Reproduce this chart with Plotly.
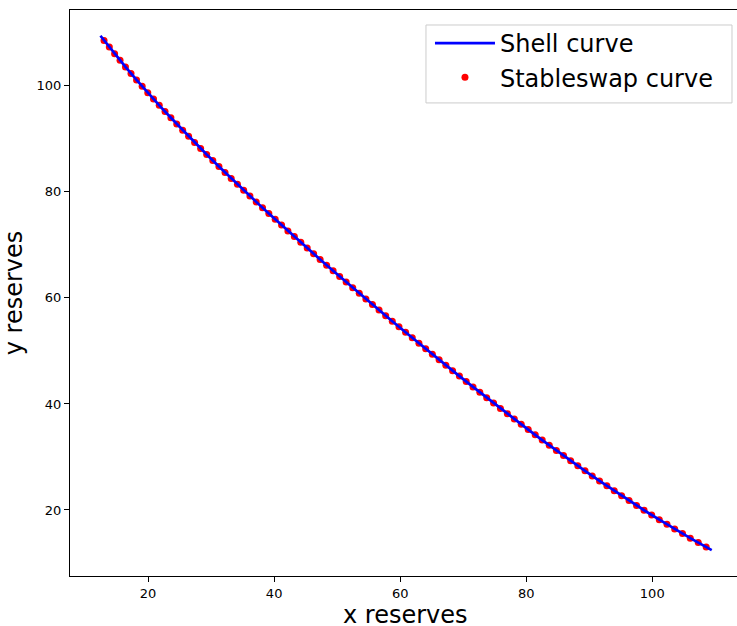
import plotly.graph_objects as go

shell_x = [12.44, 14.69, 16.41, 18.17, 19.95, 21.77, 23.62, 25.49, 27.38, 29.30,
           31.24, 33.19, 35.17, 37.16, 39.16, 41.18, 43.21, 45.25, 47.30, 49.36,
           51.43, 53.51, 55.60, 57.18, 58.75, 60.86, 62.98, 65.11, 67.25, 69.40,
           71.56, 73.73, 75.91, 78.11, 80.32, 82.54, 84.79, 87.05, 89.33, 91.64,
           93.97, 96.32, 98.70, 101.12, 103.56, 106.04, 109.44]
shell_y = [109.44, 106.04, 103.56, 101.12, 98.70, 96.32, 93.97, 91.64, 89.33, 87.05,
           84.79, 82.54, 80.32, 78.11, 75.91, 73.73, 71.56, 69.40, 67.25, 65.11,
           62.98, 60.86, 58.75, 57.18, 55.60, 53.51, 51.43, 49.36, 47.30, 45.25,
           43.21, 41.18, 39.16, 37.16, 35.17, 33.19, 31.24, 29.30, 27.38, 25.49,
           23.62, 21.77, 19.95, 18.17, 16.41, 14.69, 12.44]

stableswap_x = [13.01, 13.85, 14.69, 15.55, 16.41, 17.29, 18.17, 19.06, 19.95, 20.86,
                21.77, 22.69, 23.62, 24.55, 25.49, 26.43, 27.38, 28.34, 29.30, 30.27,
                31.24, 32.21, 33.19, 34.18, 35.17, 36.16, 37.16, 38.16, 39.16, 40.17,
                41.18, 42.19, 43.21, 44.23, 45.25, 46.27, 47.30, 48.33, 49.36, 50.40,
                51.43, 52.47, 53.51, 54.56, 55.60, 56.65,
                57.70, 58.75, 59.81, 60.86, 61.92, 62.98, 64.05, 65.11, 66.18, 67.25,
                68.32, 69.40, 70.48, 71.56, 72.64, 73.73, 74.82, 75.91, 77.01, 78.11,
                79.21, 80.32, 81.43, 82.54, 83.66, 84.79, 85.92, 87.05, 88.19, 89.33,
                90.48, 91.64, 92.80, 93.97, 95.14, 96.32, 97.51, 98.70, 99.91, 101.12,
                102.34, 103.56, 104.80, 106.04, 107.30, 108.56]
stableswap_y = [108.56, 107.30, 106.04, 104.80, 103.56, 102.34, 101.12, 99.91, 98.70, 97.51,
                96.32, 95.14, 93.97, 92.80, 91.64, 90.48, 89.33, 88.19, 87.05, 85.92,
                84.79, 83.66, 82.54, 81.43, 80.32, 79.21, 78.11, 77.01, 75.91, 74.82,
                73.73, 72.64, 71.56, 70.48, 69.40, 68.32, 67.25, 66.18, 65.11, 64.05,
                62.98, 61.92, 60.86, 59.81, 58.75, 57.70,
                56.65, 55.60, 54.56, 53.51, 52.47, 51.43, 50.40, 49.36, 48.33, 47.30,
                46.27, 45.25, 44.23, 43.21, 42.19, 41.18, 40.17, 39.16, 38.16, 37.16,
                36.16, 35.17, 34.18, 33.19, 32.21, 31.24, 30.27, 29.30, 28.34, 27.38,
                26.43, 25.49, 24.55, 23.62, 22.69, 21.77, 20.86, 19.95, 19.06, 18.17,
                17.29, 16.41, 15.55, 14.69, 13.85, 13.01]

tick_vals = [20, 40, 60, 80, 100]

FONT = "DejaVu Sans"

fig = go.Figure()
fig.add_trace(go.Scatter(
    x=stableswap_x, y=stableswap_y, mode="markers", name="Stableswap curve",
    marker=dict(color="#ff0000", size=7, line=dict(width=0)), legendrank=2))
fig.add_trace(go.Scatter(
    x=shell_x, y=shell_y, mode="lines", name="Shell curve",
    line=dict(color="#0000ff", width=2.7), legendrank=1))

axis_common = dict(
    showgrid=False, zeroline=False, showline=True, linecolor="black", linewidth=1,
    ticks="outside", ticklen=5, tickwidth=1, tickcolor="black",
    tickfont=dict(family=FONT, size=13, color="black"),
    tickvals=tick_vals,
)

# legend frame (matplotlib-style box), drawn as a paper-referenced rectangle
fig.add_shape(type="rect", xref="paper", yref="paper",
              x0=0.5337, x1=0.9925, y0=0.8358, y1=0.9735,
              fillcolor="rgba(255,255,255,0.8)", line=dict(color="#cccccc", width=1),
              layer="above")

# x-axis title as an annotation so it sits where matplotlib puts it
fig.add_annotation(text="x reserves", xref="paper", yref="paper",
                   x=0.5037, y=0, xanchor="center", yanchor="middle",
                   yshift=-39, height=22, valign="middle", showarrow=False,
                   font=dict(family=FONT, size=24, color="black"))

fig.update_layout(
    width=737, height=626,
    margin=dict(l=70, r=0, t=10, b=50, autoexpand=False),
    paper_bgcolor="white", plot_bgcolor="white",
    font=dict(family=FONT, color="black"),
    xaxis=dict(range=[7.61, 113.45], mirror=True, **axis_common),
    yaxis=dict(range=[7.55, 114.3],
               title=dict(text="y reserves", font=dict(family=FONT, size=24), standoff=8),
               **axis_common),
    legend=dict(x=0.5397, y=0.9806, xanchor="left", yanchor="top",
                bgcolor="rgba(0,0,0,0)", borderwidth=0,
                font=dict(family=FONT, size=24, color="black"),
                itemwidth=60, tracegroupgap=0),
    showlegend=True,
)

fig.write_html(
    "out.html",
    config={"displayModeBar": False},
    post_script="document.body.style.margin='0px';document.body.style.overflow='hidden';",
)
